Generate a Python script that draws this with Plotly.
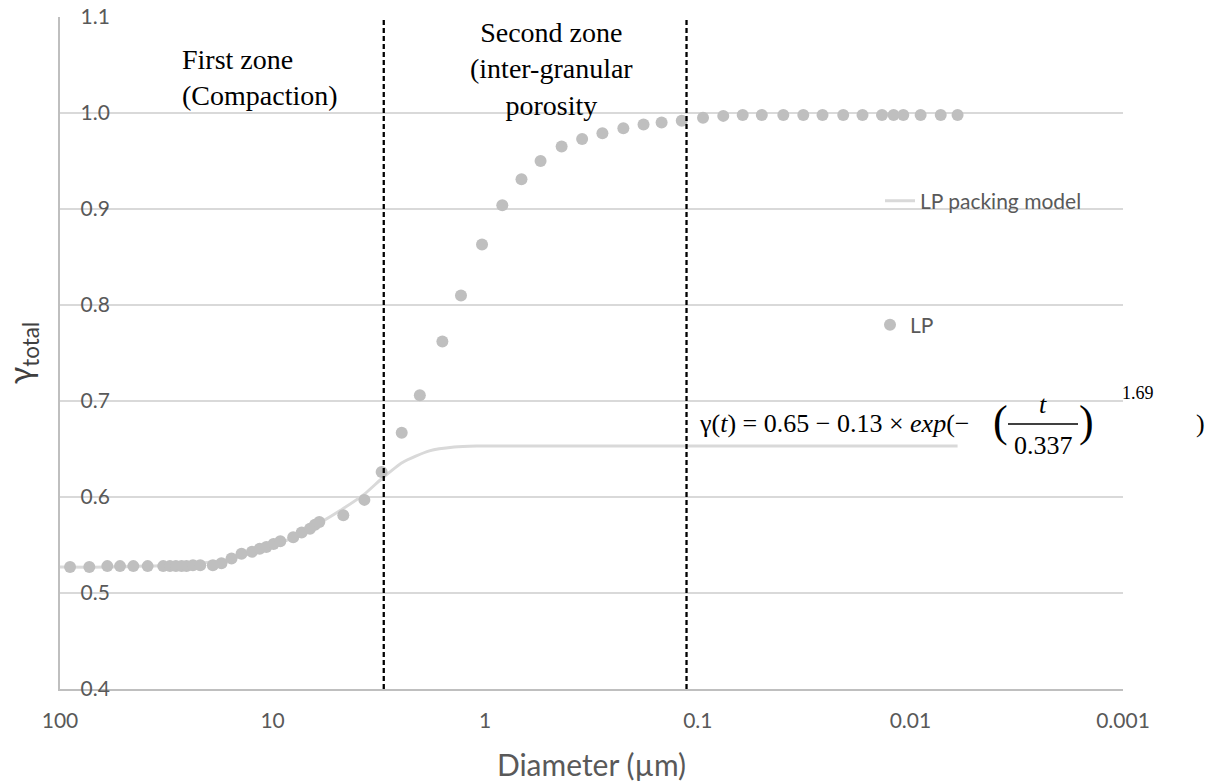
import plotly.graph_objects as go

# ---------------- data ----------------
LP_d = [89.7, 72.8, 59.9, 52.2, 45.2, 38.7, 32.7, 30.4, 28.5, 26.8, 25.4, 23.7, 21.9,
        19.1, 17.4, 15.6, 14.0, 12.5, 11.5, 10.7, 9.9, 9.2, 8.0, 7.3, 6.67, 6.32, 6.03,
        4.65, 3.70, 3.07, 2.47, 2.03, 1.59, 1.30, 1.035, 0.831, 0.675, 0.549, 0.437,
        0.350, 0.281, 0.224, 0.180, 0.148, 0.119, 0.0945, 0.0759, 0.0615, 0.050, 0.0396,
        0.0319, 0.0259, 0.0207, 0.0168, 0.0136, 0.0120, 0.0108, 0.00895, 0.0072, 0.0060]
LP_gamma = [0.527, 0.527, 0.528, 0.528, 0.528, 0.528, 0.528, 0.528, 0.528, 0.528, 0.528, 0.529, 0.529,
            0.529, 0.531, 0.536, 0.541, 0.543, 0.546, 0.548, 0.551, 0.554, 0.558, 0.563, 0.567, 0.571, 0.574,
            0.581, 0.597, 0.626, 0.667, 0.706, 0.762, 0.810, 0.863, 0.904, 0.931, 0.950, 0.965,
            0.973, 0.979, 0.984, 0.988, 0.990, 0.992, 0.995, 0.997, 0.998, 0.998, 0.998,
            0.998, 0.998, 0.998, 0.998, 0.998, 0.998, 0.998, 0.998, 0.998, 0.998]

MODEL_d = [100, 60, 40, 30, 22, 16, 12, 10, 8, 6, 4.65, 3.7, 3.07, 2.45, 1.83, 1.4, 1.1, 0.8, 0.1, 0.006]
MODEL_gamma = [0.527, 0.527, 0.528, 0.529, 0.531, 0.535, 0.543, 0.549, 0.558, 0.573, 0.588, 0.603,
               0.619, 0.636, 0.648, 0.652, 0.653, 0.653, 0.653, 0.653]

ZONE_BOUNDS = [3.0, 0.113]
Y_RANGE = [0.4, 1.1]

X_TICKS = [100, 10, 1, 0.1, 0.01, 0.001]
X_TICKTEXT = ["100", "10", "1", "0.1", "0.01", "0.001"]

# ---------------- layout helpers ----------------
W, H = 1215, 784
L, R, T, B = 60, 92, 17, 95
PW, PH = W - L - R, H - T - B


def px(x):
    return (x - L) / PW


def py(y):
    return (H - B - y) / PH


GREY_TXT = "#595959"
SANS = "Lato, 'Open Sans', sans-serif"
SERIF = "'Liberation Serif', 'Times New Roman', serif"

fig = go.Figure()

fig.add_trace(go.Scatter(
    x=MODEL_d, y=MODEL_gamma, mode="lines", name="LP packing model",
    line=dict(color="#d9d9d9", width=3, shape="spline", smoothing=0.6),
    legend="legend",
))
fig.add_trace(go.Scatter(
    x=LP_d, y=LP_gamma, mode="markers", name="LP",
    marker=dict(color="#bfbfbf", size=12),
    legend="legend2",
))
for b in ZONE_BOUNDS:
    fig.add_trace(go.Scatter(
        x=[b, b], y=Y_RANGE, mode="lines", showlegend=False, hoverinfo="skip",
        line=dict(color="black", width=2.3, dash="5px,3px"),
    ))

EQ = dict(family=SERIF, size=26, color="black")
annotations = [
    dict(text="First zone<br>(Compaction)", x=px(180), y=py(77), xanchor="left", yanchor="middle",
         align="left", font=dict(family=SERIF, size=28, color="black")),
    dict(text="Second zone<br>(inter-granular<br>porosity", x=px(551), y=py(69), xanchor="center",
         yanchor="middle", align="center", font=dict(family=SERIF, size=28, color="black")),
    dict(text="γ(<i>t</i>) = 0.65 − 0.13 × <i>exp</i>(−", x=px(697), y=py(423), xanchor="left",
         yanchor="middle", font=EQ),
    dict(text="(", x=px(1000), y=py(421), xanchor="center", yanchor="middle",
         font=dict(family=SERIF, size=44, color="black")),
    dict(text="<i>t</i>", x=px(1043), y=py(404), xanchor="center", yanchor="middle", font=EQ),
    dict(text="0.337", x=px(1043), y=py(445), xanchor="center", yanchor="middle", font=EQ),
    dict(text=")", x=px(1086), y=py(421), xanchor="center", yanchor="middle",
         font=dict(family=SERIF, size=44, color="black")),
    dict(text="1.69", x=px(1138), y=py(393), xanchor="center", yanchor="middle",
         font=dict(family=SERIF, size=18, color="black")),
    dict(text=")", x=px(1200), y=py(423), xanchor="center", yanchor="middle", font=EQ),
]
for a in annotations:
    a.update(xref="paper", yref="paper", showarrow=False)

shapes = [dict(type="line", xref="paper", yref="paper", x0=px(1008), x1=px(1078), y0=py(424), y1=py(424),
               line=dict(color="black", width=1.5))]

fig.update_layout(
    width=W, height=H,
    margin=dict(l=L, r=R, t=T, b=B),
    plot_bgcolor="white", paper_bgcolor="white",
    font=dict(family=SANS, color=GREY_TXT),
    annotations=annotations,
    shapes=shapes,
    legend=dict(x=px(880), y=py(201), xanchor="left", yanchor="middle",
                font=dict(family=SANS, size=21, color=GREY_TXT), bgcolor="rgba(0,0,0,0)"),
    legend2=dict(x=px(870), y=py(325), xanchor="left", yanchor="middle",
                 font=dict(family=SANS, size=21, color=GREY_TXT), bgcolor="rgba(0,0,0,0)"),
    xaxis=dict(
        type="log", range=[2, -3], tickvals=X_TICKS, ticktext=X_TICKTEXT, automargin=False,
        showgrid=False, showline=True, linecolor="#bfbfbf", linewidth=1.5, zeroline=False,
        ticks="", tickfont=dict(family=SANS, size=21, color=GREY_TXT), ticklabelstandoff=12,
        title=dict(text="Diameter (µm)", font=dict(family=SANS, size=30, color=GREY_TXT), standoff=24),
    ),
    yaxis=dict(
        range=Y_RANGE, dtick=0.1, tick0=0.4, tickformat=".1f", automargin=False,
        showgrid=True, gridcolor="#d9d9d9", gridwidth=1.5,
        showline=True, linecolor="#bfbfbf", linewidth=1.5, zeroline=False,
        ticks="", ticklabelposition="inside", ticklabeloverflow="allow",
        tickfont=dict(family=SANS, size=21, color=GREY_TXT), ticklabelstandoff=22,
        title=dict(text="γ<sub>total</sub>", font=dict(family=SANS, size=32, color="#404040"), standoff=42),
    ),
)

fig.write_html("out.html")
